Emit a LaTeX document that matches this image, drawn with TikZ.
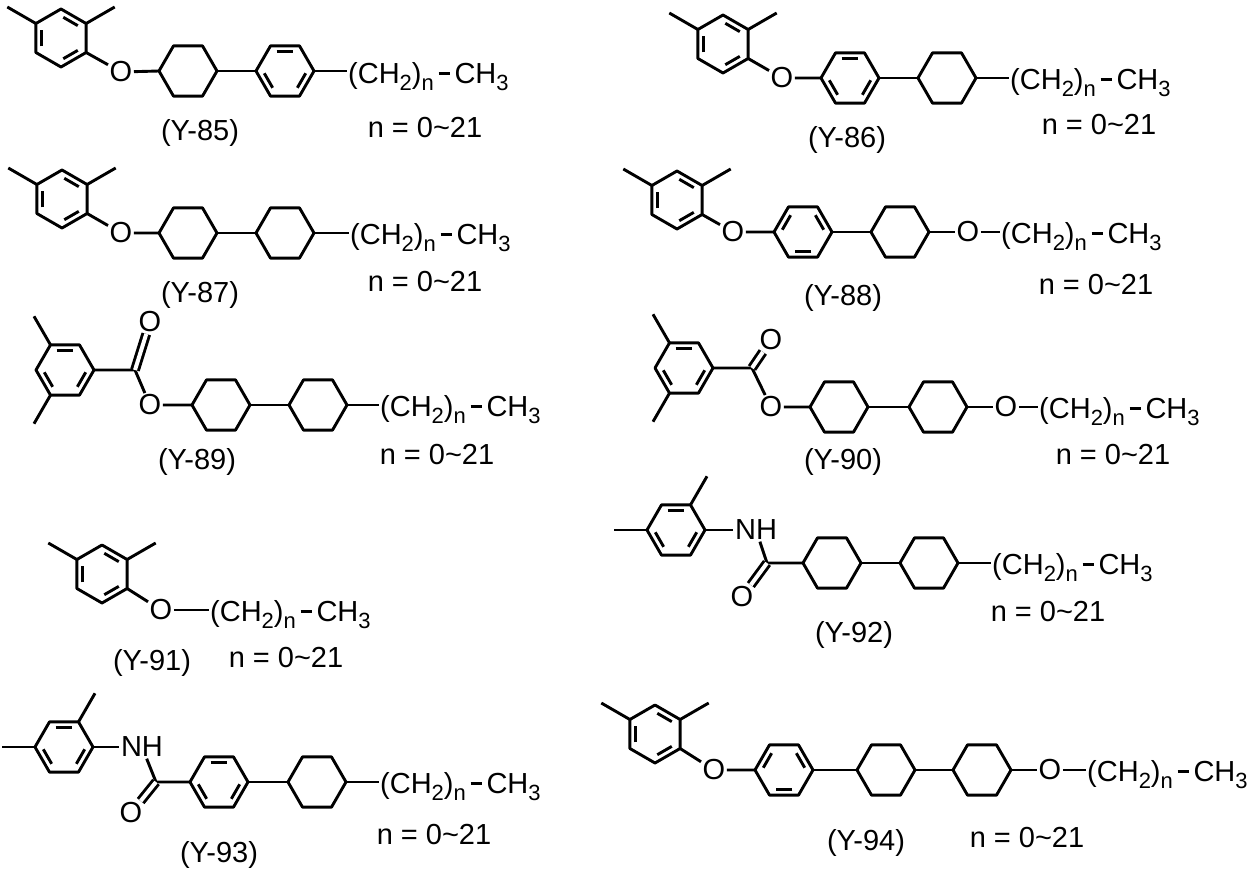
\documentclass[tikz,border=0pt]{standalone}
\usepackage{fontspec}
\setmainfont{Liberation Sans}
\usetikzlibrary{calc}

% ring radius
\newcommand{\rr}{29}
% lowered subscript and the alkyl chain text
\newcommand{\sbs}[1]{\raisebox{-7pt}{\fontsize{22}{22}\selectfont #1}}
\newcommand{\chn}{(CH\sbs{2})\sbs{n}\,\rule[8pt]{11pt}{2.8pt}\,CH\sbs{3}}

\tikzset{
  bond/.style={line width=2.9pt, line join=round},
  dbond/.style={bond, double, double distance=4pt},
  atom/.style={inner sep=1.5pt},
  chain/.style={anchor=base west, inner sep=1pt},
  % saturated ring
  pics/chex/.style={code={
    \draw[bond] (0:\rr) -- (60:\rr) -- (120:\rr) -- (180:\rr) -- (240:\rr) -- (300:\rr) -- cycle;
    \foreach \k in {0,...,5}{\coordinate (-v\k) at (60*\k:\rr);}
  }},
  % aromatic ring: start angle / edges with inner lines
  pics/arom/.style args={#1/#2}{code={
    \draw[bond] (#1:\rr) \foreach \k in {1,...,5}{-- (#1+60*\k:\rr)} -- cycle;
    \begin{scope}[scale=.76]
      \foreach \k in {#2}{
        \draw[bond] ($(#1+60*\k:\rr)!.12!(#1+60*\k+60:\rr)$) -- ($(#1+60*\k:\rr)!.88!(#1+60*\k+60:\rr)$);
      }
    \end{scope}
    \foreach \k in {0,...,5}{
      \coordinate (-v\k) at (#1+60*\k:\rr);
      \coordinate (-e\k) at (#1+60*\k:\rr+33);
    }
  }},
}

\begin{document}
\begin{tikzpicture}[x=1pt,y=-1pt, every node/.style={font=\fontsize{29}{32}\selectfont}]
  \useasboundingbox (0,0) rectangle (1248,873);

  % Y-85
  \pic (x85) at (61,38) {arom=30/{0,2,4}};
  \node[atom] (o85) at (121,72) {O};
  \pic (c85) at (188,71) {chex};
  \pic (p85) at (285,71) {arom=0/{0,2,4}};
  \node[chain] (t85) at (347,83) {\chn};
  \draw[bond] (x85-v3) -- (x85-e3);
  \draw[bond] (x85-v5) -- (x85-e5);
  \draw[bond] (x85-v0) -- (o85) -- (c85-v3);
  \draw[bond] (c85-v0) -- (p85-v3);
  \draw[bond] (p85-v0) -- (p85-v0 -| t85.west);
  \node (l85) at (200,133) {(Y-85)};
  \node (n85) at (425,128) {n = 0\textasciitilde21};

  % Y-87
  \pic (x87) at (62,199) {arom=30/{0,2,4}};
  \node[atom] (o87) at (121,233) {O};
  \pic (c87a) at (188,233) {chex};
  \pic (c87b) at (285,233) {chex};
  \node[chain] (t87) at (349,244) {\chn};
  \draw[bond] (x87-v3) -- (x87-e3);
  \draw[bond] (x87-v5) -- (x87-e5);
  \draw[bond] (x87-v0) -- (o87) -- (c87a-v3);
  \draw[bond] (c87a-v0) -- (c87b-v3);
  \draw[bond] (c87b-v0) -- (c87b-v0 -| t87.west);
  \node (l87) at (200,295) {(Y-87)};
  \node (n87) at (425,282) {n = 0\textasciitilde21};

  % Y-89
  \pic (x89) at (65,370) {arom=0/{0,2,4}};
  \coordinate (c89) at (135,370);
  \node[atom] (oa89) at (150,322) {O};
  \node[atom] (ob89) at (150,405) {O};
  \pic (c89a) at (221,405) {chex};
  \pic (c89b) at (318,405) {chex};
  \node[chain] (t89) at (379,416) {\chn};
  \draw[bond] (x89-v4) -- (x89-e4);
  \draw[bond] (x89-v2) -- (x89-e2);
  \draw[bond] (x89-v0) -- (c89) -- (ob89) -- (c89a-v3);
  \draw[dbond] (c89) -- (oa89);
  \draw[bond] (c89a-v0) -- (c89b-v3);
  \draw[bond] (c89b-v0) -- (c89b-v0 -| t89.west);
  \node (l89) at (197,462) {(Y-89)};
  \node (n89) at (437,455) {n = 0\textasciitilde21};

  % Y-91
  \pic (x91) at (102,574) {arom=30/{0,2,4}};
  \node[atom] (o91) at (161,610) {O};
  \node[chain] (t91) at (209,621) {\chn};
  \draw[bond] (x91-v3) -- (x91-e3);
  \draw[bond] (x91-v5) -- (x91-e5);
  \draw[bond] (x91-v0) -- (o91);
  \draw[bond] (o91) -- (o91 -| t91.west);
  \node (l91) at (152,663) {(Y-91)};
  \node (n91) at (286,658) {n = 0\textasciitilde21};

  % Y-93
  \pic (x93) at (64,747) {arom=0/{0,2,4}};
  \node[atom] (nh93) at (142,747) {NH};
  \coordinate (c93) at (156,782);
  \node[atom] (o93) at (131,813) {O};
  \pic (p93) at (219,782) {arom=0/{0,2,4}};
  \pic (c93a) at (317,782) {chex};
  \node[chain] (t93) at (379,793) {\chn};
  \draw[bond] (x93-v3) -- (x93-e3);
  \draw[bond] (x93-v5) -- (x93-e5);
  \draw[bond] (x93-v0) -- (nh93);
  \draw[bond] (nh93) -- (c93) -- (p93-v3);
  \draw[dbond] (c93) -- (o93);
  \draw[bond] (p93-v0) -- (c93a-v3);
  \draw[bond] (c93a-v0) -- (c93a-v0 -| t93.west);
  \node (l93) at (219,855) {(Y-93)};
  \node (n93) at (434,835) {n = 0\textasciitilde21};

  % Y-86
  \pic (x86) at (723,44) {arom=30/{0,2,4}};
  \node[atom] (o86) at (782,78) {O};
  \pic (p86) at (850,78) {arom=0/{0,2,4}};
  \pic (c86) at (947,78) {chex};
  \node[chain] (t86) at (1009,89) {\chn};
  \draw[bond] (x86-v3) -- (x86-e3);
  \draw[bond] (x86-v5) -- (x86-e5);
  \draw[bond] (x86-v0) -- (o86) -- (p86-v3);
  \draw[bond] (p86-v0) -- (c86-v3);
  \draw[bond] (c86-v0) -- (c86-v0 -| t86.west);
  \node (l86) at (847,140) {(Y-86)};
  \node (n86) at (1099,125) {n = 0\textasciitilde21};

  % Y-88
  \pic (x88) at (677,200) {arom=30/{0,2,4}};
  \node[atom] (o88) at (733,232) {O};
  \pic (p88) at (803,232) {arom=0/{1,3,5}};
  \pic (c88) at (900,232) {chex};
  \node[atom] (ob88) at (968,232) {O};
  \node[chain] (t88) at (1000,243) {\chn};
  \draw[bond] (x88-v3) -- (x88-e3);
  \draw[bond] (x88-v5) -- (x88-e5);
  \draw[bond] (x88-v0) -- (o88) -- (p88-v3);
  \draw[bond] (p88-v0) -- (c88-v3);
  \draw[bond] (c88-v0) -- (ob88);
  \draw[bond] (ob88) -- (ob88 -| t88.west);
  \node (l88) at (843,298) {(Y-88)};
  \node (n88) at (1096,285) {n = 0\textasciitilde21};

  % Y-90
  \pic (x90) at (684,368) {arom=0/{0,2,4}};
  \coordinate (c90) at (752,368);
  \node[atom] (oa90) at (771,340) {O};
  \node[atom] (ob90) at (771,407) {O};
  \pic (c90a) at (839,407) {chex};
  \pic (c90b) at (938,407) {chex};
  \node[atom] (oc90) at (1006,407) {O};
  \node[chain] (t90) at (1038,418) {\chn};
  \draw[bond] (x90-v4) -- (x90-e4);
  \draw[bond] (x90-v2) -- (x90-e2);
  \draw[bond] (x90-v0) -- (c90) -- (ob90) -- (c90a-v3);
  \draw[dbond] (c90) -- (oa90);
  \draw[bond] (c90a-v0) -- (c90b-v3);
  \draw[bond] (c90b-v0) -- (oc90);
  \draw[bond] (oc90) -- (oc90 -| t90.west);
  \node (l90) at (843,462) {(Y-90)};
  \node (n90) at (1113,455) {n = 0\textasciitilde21};

  % Y-92
  \pic (x92) at (676,530) {arom=0/{0,2,4}};
  \node[atom] (nh92) at (756,530) {NH};
  \coordinate (c92) at (767,563);
  \node[atom] (o92) at (742,597) {O};
  \pic (c92a) at (832,563) {chex};
  \pic (c92b) at (929,563) {chex};
  \node[chain] (t92) at (991,574) {\chn};
  \draw[bond] (x92-v3) -- (x92-e3);
  \draw[bond] (x92-v5) -- (x92-e5);
  \draw[bond] (x92-v0) -- (nh92);
  \draw[bond] (nh92) -- (c92) -- (c92a-v3);
  \draw[dbond] (c92) -- (o92);
  \draw[bond] (c92a-v0) -- (c92b-v3);
  \draw[bond] (c92b-v0) -- (c92b-v0 -| t92.west);
  \node (l92) at (854,635) {(Y-92)};
  \node (n92) at (1048,612) {n = 0\textasciitilde21};

  % Y-94
  \pic (x94) at (655,734) {arom=30/{0,2,4}};
  \node[atom] (o94) at (714,770) {O};
  \pic (p94) at (784,770) {arom=0/{1,3,5}};
  \pic (c94a) at (886,770) {chex};
  \pic (c94b) at (982,770) {chex};
  \node[atom] (ob94) at (1050,770) {O};
  \node[chain] (t94) at (1086,781) {\chn};
  \draw[bond] (x94-v3) -- (x94-e3);
  \draw[bond] (x94-v5) -- (x94-e5);
  \draw[bond] (x94-v0) -- (o94) -- (p94-v3);
  \draw[bond] (p94-v0) -- (c94a-v3);
  \draw[bond] (c94a-v0) -- (c94b-v3);
  \draw[bond] (c94b-v0) -- (ob94);
  \draw[bond] (ob94) -- (ob94 -| t94.west);
  \node (l94) at (866,843) {(Y-94)};
  \node (n94) at (1027,838) {n = 0\textasciitilde21};

\end{tikzpicture}
\end{document}
